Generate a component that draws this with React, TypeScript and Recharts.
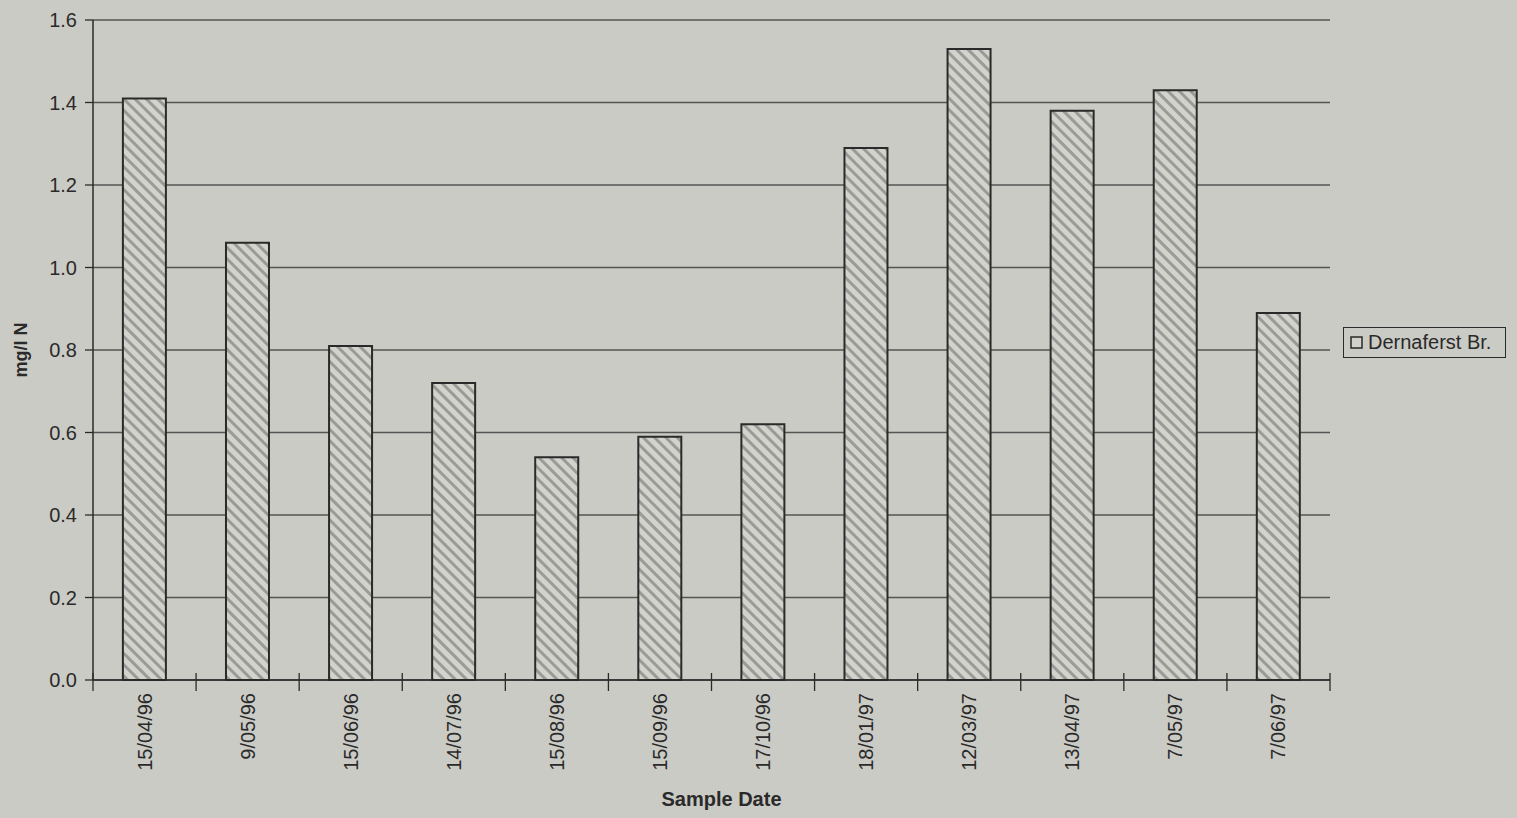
import { BarChart, Bar, XAxis, YAxis, CartesianGrid, Legend, Label } from "recharts";

// Nitrate readings at Dernaferst Br., mg/l N
const sampleDates = [
  "15/04/96",
  "9/05/96",
  "15/06/96",
  "14/07/96",
  "15/08/96",
  "15/09/96",
  "17/10/96",
  "18/01/97",
  "12/03/97",
  "13/04/97",
  "7/05/97",
  "7/06/97",
];
const dernaferst = [1.41, 1.06, 0.81, 0.72, 0.54, 0.59, 0.62, 1.29, 1.53, 1.38, 1.43, 0.89];
const yTicks = [0, 0.2, 0.4, 0.6, 0.8, 1.0, 1.2, 1.4, 1.6];

const data = sampleDates.map((date, i) => ({ date, value: dernaferst[i] }));

const W = 1517;
const H = 818;
const PLOT_LEFT = 93;
const PLOT_RIGHT = 1330;
const BAND = (PLOT_RIGHT - PLOT_LEFT) / sampleDates.length;
const FONT = "'Liberation Sans', Arial, sans-serif";
const INK = "#2a2a2a";
const PAPER = "#cbcbc5";

// Excel-style category ticks: marks sit between categories, label rotated
function DateTick(props: any) {
  const { x, y, payload, index } = props;
  const ty = y + 13;
  return (
    <g>
      <line x1={x - BAND / 2} x2={x - BAND / 2} y1={y - 7} y2={y + 11} stroke={INK} strokeWidth={1.3} />
      {index === sampleDates.length - 1 && (
        <line x1={x + BAND / 2} x2={x + BAND / 2} y1={y - 7} y2={y + 11} stroke={INK} strokeWidth={1.3} />
      )}
      <text
        x={x}
        y={ty}
        dy="0.35em"
        textAnchor="end"
        transform={`rotate(-90 ${x} ${ty})`}
        fontSize={20}
        fontFamily={FONT}
        fill={INK}
      >
        {payload.value}
      </text>
    </g>
  );
}

// rotated axis title, centred on the y axis span
function UnitLabel(props: any) {
  const { viewBox } = props;
  const cx = 21;
  const cy = viewBox.y + viewBox.height / 2;
  return (
    <text
      x={cx}
      y={cy}
      dy="0.35em"
      textAnchor="middle"
      transform={`rotate(-90 ${cx} ${cy})`}
      fontSize={18}
      fontWeight="bold"
      fontFamily={FONT}
      fill={INK}
    >
      mg/l N
    </text>
  );
}

function LegendBox(props: any) {
  const name = props.payload?.[0]?.value ?? "";
  return (
    <div
      style={{
        width: 163,
        height: 31,
        boxSizing: "border-box",
        border: `1.5px solid ${INK}`,
        display: "flex",
        alignItems: "center",
        paddingLeft: 6,
        gap: 5,
        fontSize: 20,
        fontFamily: FONT,
        color: INK,
        whiteSpace: "nowrap",
      }}
    >
      <svg width={13} height={13}>
        <rect x={1} y={1} width={11} height={11} fill="#d2d2cd" stroke={INK} strokeWidth={1.5} />
      </svg>
      <span>{name}</span>
    </div>
  );
}

export default function App() {
  return (
    <div style={{ position: "absolute", left: 0, top: 0, width: W, height: H, background: PAPER }}>
      <BarChart
        width={W}
        height={H}
        data={data}
        margin={{ top: 20, right: W - PLOT_RIGHT, bottom: 0, left: 0 }}
        barCategoryGap="29%"
      >
        <defs>
          <pattern id="hatch" patternUnits="userSpaceOnUse" width={8} height={8} patternTransform="rotate(-45)">
            <rect width={8} height={8} fill="#d3d3ce" />
            <rect width={3} height={8} fill="#9a9a96" />
          </pattern>
        </defs>
        <CartesianGrid vertical={false} stroke="#555" strokeWidth={1.3} />
        <XAxis
          dataKey="date"
          height={138}
          interval={0}
          tickLine={false}
          tickSize={0}
          tickMargin={0}
          axisLine={{ stroke: INK, strokeWidth: 1.5 }}
          tick={<DateTick />}
        >
          <Label
            value="Sample Date"
            position="insideBottom"
            offset={12}
            dx={10}
            fontSize={20}
            fontWeight="bold"
            fontFamily={FONT}
            fill={INK}
          />
        </XAxis>
        <YAxis
          width={PLOT_LEFT}
          domain={[0, 1.6]}
          ticks={yTicks}
          interval={0}
          tickFormatter={(v: number) => v.toFixed(1)}
          tickSize={8}
          tickMargin={8}
          tickLine={{ stroke: INK, strokeWidth: 1.3 }}
          axisLine={{ stroke: INK, strokeWidth: 1.5 }}
          tick={{ fontSize: 20, fontFamily: FONT, fill: INK }}
        >
          <Label content={<UnitLabel />} />
        </YAxis>
        <YAxis
          yAxisId="frame"
          orientation="right"
          width={0}
          domain={[0, 1.6]}
          tick={false}
          tickLine={false}
          axisLine={{ stroke: "#777", strokeWidth: 1 }}
        />
        <Legend
          layout="horizontal"
          verticalAlign="middle"
          align="center"
          content={<LegendBox />}
          wrapperStyle={{ left: 1343, top: 327, width: 163 }}
        />
        <Bar
          dataKey="value"
          name="Dernaferst Br."
          fill="url(#hatch)"
          stroke={INK}
          strokeWidth={2}
          isAnimationActive={false}
        />
      </BarChart>
    </div>
  );
}
